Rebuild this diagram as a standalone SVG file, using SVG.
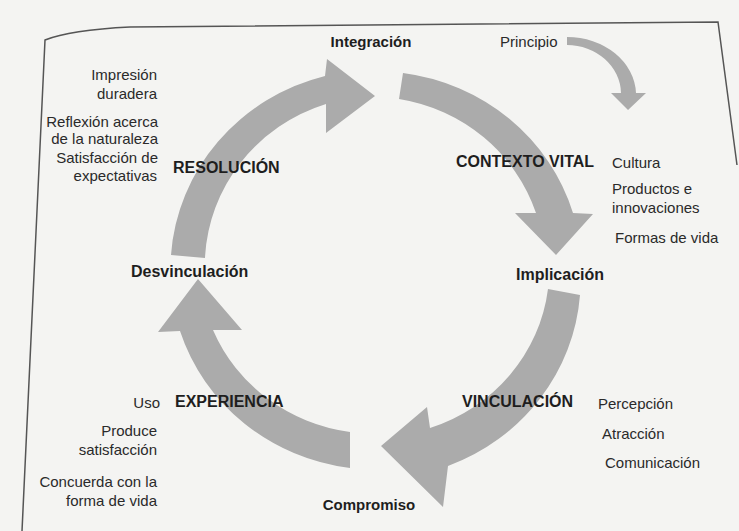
<svg xmlns="http://www.w3.org/2000/svg" width="739" height="531" viewBox="0 0 739 531">
<style>
.t{font-family:"Liberation Sans",Arial,sans-serif;font-size:15px;fill:#2a2a2a}
.b{font-family:"Liberation Sans",Arial,sans-serif;font-size:16px;font-weight:bold;fill:#1e1e1e}
.s{font-size:15px}
.r{text-anchor:end}
.m{text-anchor:middle}
.arr{fill:#ababab}
.frame{fill:none;stroke:#555;stroke-width:1.5}
</style>
<rect width="739" height="531" fill="#f4f4f2"/>
<path class="frame" d="M22,531 L45,40 Q70,30 130,27 L718,22 L737,165"/>
<g id="connectors">
<path id="a1" class="arr" d="M403,73 A206,199 0 0,1 573,213 L593,214 L556,255 L515,213 L536,213 A174,170 0 0,0 399,99 Z"/>
<path id="a2" class="arr" d="M580,295 A206,199 0 0,1 448,466 L443,507 L381,446 L427,407 L430,428 A174,168 0 0,0 548,289 Z"/>
<path id="a3" class="arr" d="M350,468 A206,199 0 0,1 180,331 L158,332 L198,279 L242,330 L213,330 A174,168 0 0,0 350,432 Z"/>
<path id="a4" class="arr" d="M171,255 A206,199 0 0,1 325,76 L327,59 L375,96 L326,133 L326,104 A174,170 0 0,0 205,258 Z"/>
<path id="a5" class="arr" d="M567,37 A69,58 0 0,1 636,93 L646,93 L628,110 L611,93 L621,93 A54,49 0 0,0 567,45 Z"/>
</g>
<g id="integracion"><text class="b s m" x="371" y="47">Integración</text></g>
<g id="principio"><text class="t" x="500" y="47">Principio</text></g>
<g id="resolucion-notes">
<text class="t r" x="157" y="80">Impresión</text>
<text class="t r" x="157" y="99">duradera</text>
<text class="t r" x="158" y="127">Reflexión acerca</text>
<text class="t r" x="158" y="144">de la naturaleza</text>
<text class="t r" x="158" y="163">Satisfacción de</text>
<text class="t r" x="157" y="181">expectativas</text>
</g>
<g id="resolucion"><text class="b" x="173" y="173">RESOLUCIÓN</text></g>
<g id="contexto"><text class="b" x="456" y="167">CONTEXTO VITAL</text></g>
<g id="contexto-notes">
<text class="t" x="612" y="168">Cultura</text>
<text class="t" x="612" y="194">Productos e</text>
<text class="t" x="612" y="213">innovaciones</text>
<text class="t" x="615" y="243">Formas de vida</text>
</g>
<g id="desvinculacion"><text class="b" x="131" y="277">Desvinculación</text></g>
<g id="implicacion"><text class="b" x="516" y="280">Implicación</text></g>
<g id="experiencia"><text class="b" x="175" y="407">EXPERIENCIA</text></g>
<g id="experiencia-notes">
<text class="t r" x="160" y="408">Uso</text>
<text class="t r" x="157" y="436">Produce</text>
<text class="t r" x="157" y="455">satisfacción</text>
<text class="t r" x="157" y="487">Concuerda con la</text>
<text class="t r" x="157" y="506">forma de vida</text>
</g>
<g id="vinculacion"><text class="b" x="462" y="407">VINCULACIÓN</text></g>
<g id="vinculacion-notes">
<text class="t" x="598" y="409">Percepción</text>
<text class="t" x="602" y="439">Atracción</text>
<text class="t" x="605" y="468">Comunicación</text>
</g>
<g id="compromiso"><text class="b s m" x="369" y="510">Compromiso</text></g>
</svg>
